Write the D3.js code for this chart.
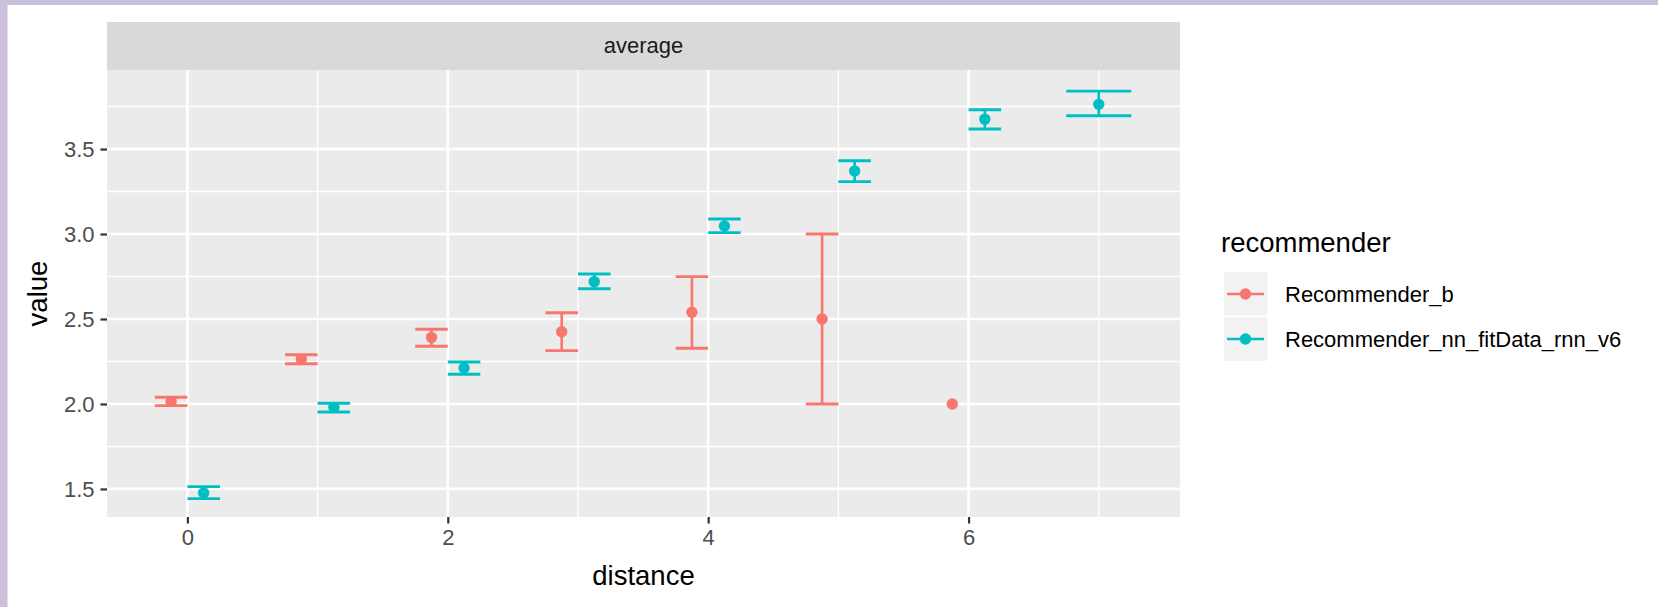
<!DOCTYPE html>
<html>
<head>
<meta charset="utf-8">
<script src="https://cdn.jsdelivr.net/npm/d3@7"></script>
<style>
  html, body { margin: 0; padding: 0; background: #ffffff; }
  svg { display: block; }
  text { font-family: "Liberation Sans", Arial, Helvetica, sans-serif; }
</style>
</head>
<body>
<script>
// Mean value with confidence interval per distance, for two recommenders
const distances = [0, 1, 2, 3, 4, 5, 6, 7];

const seriesNames = ["Recommender_b", "Recommender_nn_fitData_rnn_v6"];
const seriesColors = ["#F8766D", "#00BFC4"];

// Recommender_b (no observation at distance 7, no interval at distance 6)
const bDistance = [0, 1, 2, 3, 4, 5, 6];
const bMean = [2.015, 2.264, 2.392, 2.425, 2.540, 2.500, 2.000];
const bLow  = [1.990, 2.237, 2.340, 2.314, 2.328, 2.000, null];
const bHigh = [2.040, 2.290, 2.440, 2.537, 2.749, 3.000, null];

// Recommender_nn_fitData_rnn_v6
const nnDistance = [0, 1, 2, 3, 4, 5, 6, 7];
const nnMean = [1.477, 1.980, 2.212, 2.720, 3.047, 3.371, 3.676, 3.763];
const nnLow  = [1.443, 1.953, 2.175, 2.678, 3.008, 3.308, 3.618, 3.696];
const nnHigh = [1.514, 2.004, 2.247, 2.765, 3.088, 3.431, 3.731, 3.841];

const xMajor = [0, 2, 4, 6];
const xMinor = [1, 3, 5, 7];
const yMajor = [1.5, 2.0, 2.5, 3.0, 3.5];
const yMinor = [1.75, 2.25, 2.75, 3.25, 3.75];

const facetLabel = "average";
const xTitle = "distance";
const yTitle = "value";
const legendTitle = "recommender";

const W = 1658, H = 607;
const panel = { left: 107, right: 1180, top: 70, bottom: 517 };
const stripTop = 22;

const x = d3.scaleLinear().domain([-0.6175, 7.624]).range([panel.left, panel.right]);
const y = d3.scaleLinear().domain([1.335, 3.965]).range([panel.bottom, panel.top]);

// rows per series
const series = [
  { name: seriesNames[0], color: seriesColors[0], dist: bDistance, mean: bMean, lo: bLow, hi: bHigh },
  { name: seriesNames[1], color: seriesColors[1], dist: nnDistance, mean: nnMean, lo: nnLow, hi: nnHigh }
];

// dodge: groups sharing a distance are spread over a total width of 0.5
const dodgeWidth = 0.5;
const rows = [];
series.forEach((s, si) => {
  s.dist.forEach((d, i) => {
    rows.push({ si, color: s.color, d, mean: s.mean[i], lo: s.lo[i], hi: s.hi[i] });
  });
});
distances.forEach(d => {
  const here = rows.filter(r => r.d === d).sort((a, b) => a.si - b.si);
  const n = here.length;
  here.forEach((r, k) => {
    const w = dodgeWidth / n;
    r.xc = d - dodgeWidth / 2 + w * (k + 0.5);
    r.capW = w;
  });
});

const svg = d3.select("body").append("svg").attr("width", W).attr("height", H);

// frame
svg.append("rect").attr("x", 0).attr("y", 0).attr("width", W).attr("height", H).attr("fill", "#ffffff");
svg.append("rect").attr("x", 0).attr("y", 0).attr("width", W).attr("height", 5).attr("fill", "#cbc0db");
svg.append("rect").attr("x", 0).attr("y", 0).attr("width", 7.5).attr("height", H).attr("fill", "#cbc0db");

// facet strip
svg.append("rect")
  .attr("x", panel.left).attr("y", stripTop)
  .attr("width", panel.right - panel.left).attr("height", panel.top - stripTop)
  .attr("fill", "#d9d9d9");
svg.append("text")
  .attr("x", (panel.left + panel.right) / 2).attr("y", (stripTop + panel.top) / 2)
  .attr("dy", "0.33em").attr("text-anchor", "middle")
  .attr("font-size", 22).attr("fill", "#1a1a1a").text(facetLabel);

// panel
svg.append("rect")
  .attr("x", panel.left).attr("y", panel.top)
  .attr("width", panel.right - panel.left).attr("height", panel.bottom - panel.top)
  .attr("fill", "#ebebeb");

const grid = svg.append("g");
grid.selectAll(".ymin").data(yMinor).join("line")
  .attr("x1", panel.left).attr("x2", panel.right)
  .attr("y1", d => y(d)).attr("y2", d => y(d))
  .attr("stroke", "#ffffff").attr("stroke-width", 1.4);
grid.selectAll(".xmin").data(xMinor).join("line")
  .attr("y1", panel.top).attr("y2", panel.bottom)
  .attr("x1", d => x(d)).attr("x2", d => x(d))
  .attr("stroke", "#ffffff").attr("stroke-width", 1.4);
grid.selectAll(".ymaj").data(yMajor).join("line")
  .attr("x1", panel.left).attr("x2", panel.right)
  .attr("y1", d => y(d)).attr("y2", d => y(d))
  .attr("stroke", "#ffffff").attr("stroke-width", 2.7);
grid.selectAll(".xmaj").data(xMajor).join("line")
  .attr("y1", panel.top).attr("y2", panel.bottom)
  .attr("x1", d => x(d)).attr("x2", d => x(d))
  .attr("stroke", "#ffffff").attr("stroke-width", 2.7);

// axes
const tickLen = 6.5;
const yAxis = d3.axisLeft(y).tickValues(yMajor).tickFormat(d3.format(".1f"))
  .tickSize(tickLen).tickPadding(6);
const xAxis = d3.axisBottom(x).tickValues(xMajor).tickFormat(d3.format("d"))
  .tickSize(tickLen).tickPadding(6);

const gy = svg.append("g").attr("transform", `translate(${panel.left},0)`).call(yAxis);
const gx = svg.append("g").attr("transform", `translate(0,${panel.bottom})`).call(xAxis);
[gx, gy].forEach(g => {
  g.select(".domain").remove();
  g.selectAll(".tick line").attr("stroke", "#333333").attr("stroke-width", 2.2);
  g.selectAll(".tick text").attr("fill", "#4d4d4d").attr("font-size", 22)
    .style("font-family", '"Liberation Sans", Arial, sans-serif');
});
gx.selectAll(".tick text").attr("dy", "0.72em");

// axis titles
svg.append("text")
  .attr("x", (panel.left + panel.right) / 2).attr("y", 585)
  .attr("text-anchor", "middle").attr("font-size", 27.5).attr("fill", "#000")
  .text(xTitle);
svg.append("text")
  .attr("transform", `translate(47,${(panel.top + panel.bottom) / 2}) rotate(-90)`)
  .attr("text-anchor", "middle").attr("font-size", 27.5).attr("fill", "#000")
  .text(yTitle);

// error bars and points
const marks = svg.append("g");
const withBars = rows.filter(r => r.lo != null && r.hi != null);
marks.selectAll(".vbar").data(withBars).join("line")
  .attr("x1", r => x(r.xc)).attr("x2", r => x(r.xc))
  .attr("y1", r => y(r.lo)).attr("y2", r => y(r.hi))
  .attr("stroke", r => r.color).attr("stroke-width", 2.6);
marks.selectAll(".capHi").data(withBars).join("line")
  .attr("x1", r => x(r.xc - r.capW / 2)).attr("x2", r => x(r.xc + r.capW / 2))
  .attr("y1", r => y(r.hi)).attr("y2", r => y(r.hi))
  .attr("stroke", r => r.color).attr("stroke-width", 2.9);
marks.selectAll(".capLo").data(withBars).join("line")
  .attr("x1", r => x(r.xc - r.capW / 2)).attr("x2", r => x(r.xc + r.capW / 2))
  .attr("y1", r => y(r.lo)).attr("y2", r => y(r.lo))
  .attr("stroke", r => r.color).attr("stroke-width", 2.9);
marks.selectAll(".pt").data(rows).join("circle")
  .attr("cx", r => x(r.xc)).attr("cy", r => y(r.mean)).attr("r", 5.7)
  .attr("fill", r => r.color);

// legend
const lg = svg.append("g");
lg.append("text").attr("x", 1221).attr("y", 252)
  .attr("font-size", 27.5).attr("fill", "#000").text(legendTitle);
const keyX = 1223, keyTop = 271.5, keySize = 45;
series.forEach((s, i) => {
  const top = keyTop + i * keySize;
  const cy = top + keySize / 2;
  lg.append("rect").attr("x", keyX).attr("y", top)
    .attr("width", keySize).attr("height", keySize)
    .attr("fill", "#f2f2f2").attr("stroke", "#ffffff").attr("stroke-width", 1.4);
  lg.append("line").attr("x1", keyX + 4).attr("x2", keyX + keySize - 4)
    .attr("y1", cy).attr("y2", cy).attr("stroke", s.color).attr("stroke-width", 2.6);
  lg.append("circle").attr("cx", keyX + keySize / 2).attr("cy", cy).attr("r", 5.7).attr("fill", s.color);
  lg.append("text").attr("x", 1285).attr("y", cy).attr("dy", "0.36em")
    .attr("font-size", 22).attr("fill", "#000").text(s.name);
});
</script>
</body>
</html>
